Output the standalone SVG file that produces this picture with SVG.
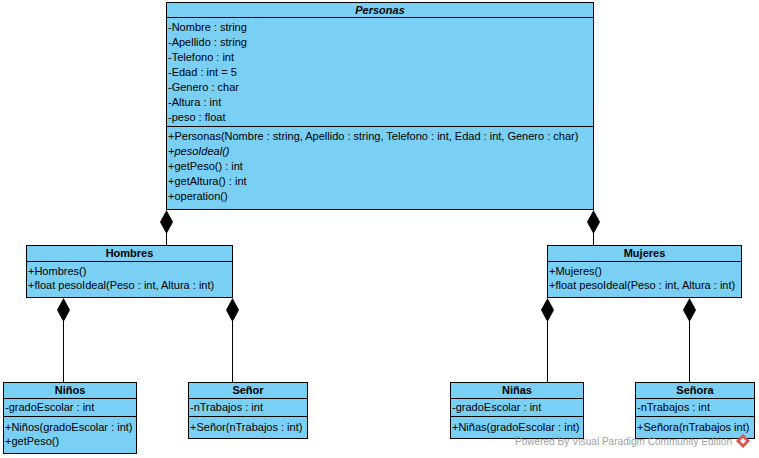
<svg xmlns="http://www.w3.org/2000/svg" width="759" height="458" viewBox="0 0 759 458">
<style>
.box{fill:#7ACFF5;stroke:#000;stroke-width:1}
.sep{stroke:#000;stroke-width:1}
text{font-family:"Liberation Sans",Arial,sans-serif;font-size:11px;fill:#000}
.t{font-weight:bold;text-anchor:middle}
.i{font-style:italic}
.con{stroke:#000;stroke-width:1;fill:none}
.dia{fill:#000;stroke:none}
.wm{fill:#a0a0a0;font-size:11px}
</style>
<defs>
<path id="d" class="dia" d="M0,0 L6.5,12 L0,24 L-6.5,12 Z"/>
</defs>
<g id="connectors">
<path class="con" d="M166.5,230 V245"/>
<use href="#d" x="166.5" y="210"/>
<path class="con" d="M593.5,230 V245"/>
<use href="#d" x="593.5" y="210"/>
<path class="con" d="M63.5,318 V382"/>
<use href="#d" x="63.5" y="298"/>
<path class="con" d="M232.5,318 V382"/>
<use href="#d" x="232.5" y="298"/>
<path class="con" d="M547.5,318 V382"/>
<use href="#d" x="547.5" y="298"/>
<path class="con" d="M689.5,318 V382"/>
<use href="#d" x="689.5" y="298"/>
</g>
<g id="Personas">
<rect class="box" x="166.5" y="2.5" width="427" height="207"/>
<line class="sep" x1="166.5" y1="17.5" x2="593.5" y2="17.5"/>
<line class="sep" x1="166.5" y1="126.5" x2="593.5" y2="126.5"/>
<text class="t i" x="380" y="14">Personas</text>
<text x="168" y="31">-Nombre : string</text>
<text x="168" y="46">-Apellido : string</text>
<text x="168" y="61">-Telefono : int</text>
<text x="168" y="76">-Edad : int = 5</text>
<text x="168" y="91">-Genero : char</text>
<text x="168" y="106">-Altura : int</text>
<text x="168" y="121">-peso : float</text>
<text x="168" y="140">+Personas(Nombre : string, Apellido : string, Telefono : int, Edad : int, Genero : char)</text>
<text class="i" x="168" y="155">+pesoIdeal()</text>
<text x="168" y="170">+getPeso() : int</text>
<text x="168" y="185">+getAltura() : int</text>
<text x="168" y="200">+operation()</text>
</g>
<g id="Hombres">
<rect class="box" x="26.5" y="245.5" width="206" height="52"/>
<line class="sep" x1="26.5" y1="261.5" x2="232.5" y2="261.5"/>
<text class="t" x="129.5" y="257">Hombres</text>
<text x="28" y="275">+Hombres()</text>
<text x="28" y="289">+float pesoIdeal(Peso : int, Altura : int)</text>
</g>
<g id="Mujeres">
<rect class="box" x="547.5" y="245.5" width="194" height="52"/>
<line class="sep" x1="547.5" y1="261.5" x2="741.5" y2="261.5"/>
<text class="t" x="644.5" y="257">Mujeres</text>
<text x="549" y="275">+Mujeres()</text>
<text x="549" y="289">+float pesoIdeal(Peso : int, Altura : int)</text>
</g>
<g id="Ninos">
<rect class="box" x="3.5" y="382.5" width="133" height="71"/>
<line class="sep" x1="3.5" y1="398.5" x2="136.5" y2="398.5"/>
<line class="sep" x1="3.5" y1="416.5" x2="136.5" y2="416.5"/>
<text class="t" x="70" y="394">Niños</text>
<text x="5" y="411">-gradoEscolar : int</text>
<text x="5" y="431">+Niños(gradoEscolar : int)</text>
<text x="5" y="445">+getPeso()</text>
</g>
<g id="Senor">
<rect class="box" x="188.5" y="382.5" width="119" height="56"/>
<line class="sep" x1="188.5" y1="398.5" x2="307.5" y2="398.5"/>
<line class="sep" x1="188.5" y1="416.5" x2="307.5" y2="416.5"/>
<text class="t" x="248" y="394">Señor</text>
<text x="190" y="411">-nTrabajos : int</text>
<text x="190" y="431">+Señor(nTrabajos : int)</text>
</g>
<g id="Ninas">
<rect class="box" x="450.5" y="382.5" width="133" height="56"/>
<line class="sep" x1="450.5" y1="398.5" x2="583.5" y2="398.5"/>
<line class="sep" x1="450.5" y1="416.5" x2="583.5" y2="416.5"/>
<text class="t" x="517" y="394">Niñas</text>
<text x="452" y="411">-gradoEscolar : int</text>
<text x="452" y="431">+Niñas(gradoEscolar : int)</text>
</g>
<g id="Senora">
<rect class="box" x="635.5" y="382.5" width="119" height="56"/>
<line class="sep" x1="635.5" y1="398.5" x2="754.5" y2="398.5"/>
<line class="sep" x1="635.5" y1="416.5" x2="754.5" y2="416.5"/>
<text class="t" x="695" y="394">Señora</text>
<text x="637" y="411">-nTrabajos : int</text>
<text x="637" y="431">+Señora(nTrabajos int)</text>
</g>
<g id="watermark">
<text class="wm" x="515" y="445" textLength="217" lengthAdjust="spacingAndGlyphs">Powered By  Visual Paradigm Community Edition</text>
<path d="M743,434 L750,441 L743,448 L736,441 Z" fill="#d9534f"/>
<path d="M743,438 L746,441 L743,444 L740,441 Z" fill="#fff"/>
</g>
</svg>
